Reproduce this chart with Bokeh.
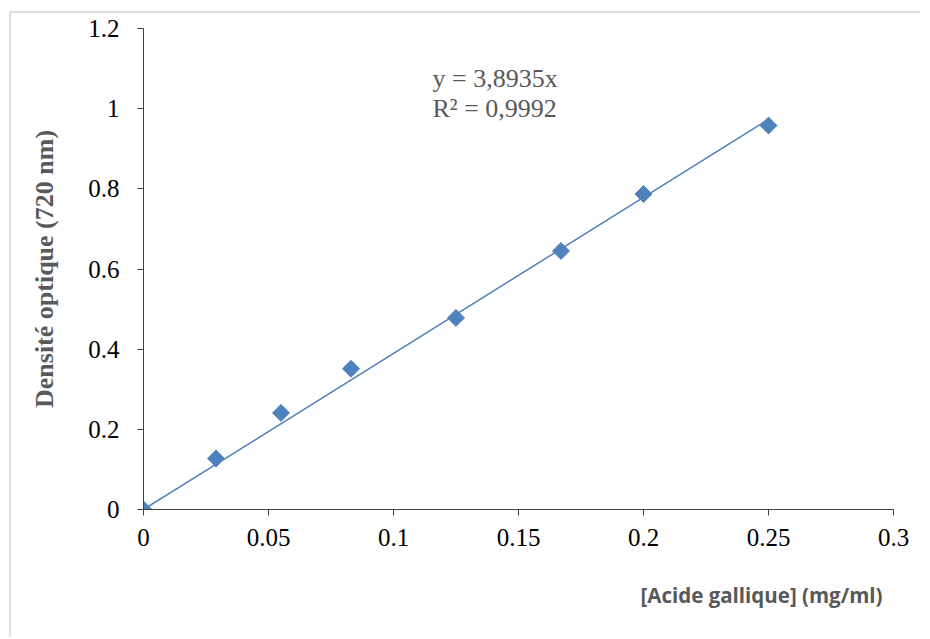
import numpy as np
from bokeh.plotting import figure
from bokeh.models import FixedTicker, Label, Title
from bokeh.embed import file_html
from bokeh.resources import INLINE

# Data
conc = [0, 0.029, 0.055, 0.083, 0.125, 0.167, 0.2, 0.25]
absorb = [0, 0.127, 0.241, 0.351, 0.478, 0.645, 0.787, 0.958]
slope = 3.8935
x_ticks = [0, 0.05, 0.1, 0.15, 0.2, 0.25, 0.3]
x_tick_labels = ["0", "0.05", "0.1", "0.15", "0.2", "0.25", "0.3"]
y_ticks = [0, 0.2, 0.4, 0.6, 0.8, 1.0, 1.2]
y_tick_labels = ["0", "0.2", "0.4", "0.6", "0.8", "1", "1.2"]
eq_lines = ["y = 3,8935x", "R² = 0,9992"]

BLUE = "#4F81BD"
GRAY = "#595959"

p = figure(width=911, height=626, x_range=(0, 0.3), y_range=(0, 1.2),
           output_backend="svg", toolbar_location=None,
           min_border_left=132, min_border_right=29,
           min_border_top=15, min_border_bottom=129)
p.styles = {"border-top": "2px solid #e0e0e0", "border-left": "2px solid #e0e0e0",
            "margin-top": "11px", "margin-left": "9px"}
p.grid.visible = False
p.outline_line_color = None
p.background_fill_color = "white"

# trendline
xf = np.array([0, max(conc)])
p.line(xf, slope * xf, line_color=BLUE, line_width=1.5)
p.scatter(conc, absorb, marker="square", angle=np.pi / 4, size=12,
          fill_color=BLUE, line_color=BLUE)

for ax, ticks, labels in ((p.xaxis[0], x_ticks, x_tick_labels),
                          (p.yaxis[0], y_ticks, y_tick_labels)):
    ax.ticker = FixedTicker(ticks=ticks)
    ax.major_label_overrides = {t: l for t, l in zip(ticks, labels)}
    ax.minor_tick_line_color = None
    ax.major_tick_out = 6
    ax.major_tick_in = 0
    ax.axis_line_color = "#404040"
    ax.major_tick_line_color = "#404040"
    ax.major_label_text_font = "Liberation Serif"
    ax.major_label_text_font_size = "25px"
    ax.major_label_text_color = "black"

p.xaxis.major_label_standoff = 13
p.yaxis.major_label_standoff = 18

p.yaxis.axis_label = "Densité optique (720 nm)"
p.yaxis.axis_label_text_font = "Liberation Serif"
p.yaxis.axis_label_text_font_style = "bold"
p.yaxis.axis_label_text_font_size = "26px"
p.yaxis.axis_label_text_color = GRAY
p.yaxis.axis_label_standoff = 26

p.add_layout(Title(text="[Acide gallique] (mg/ml)", align="right", offset=11,
                   text_font="Open Sans", text_font_style="bold",
                   text_font_size="20.5px", text_color=GRAY, standoff=61), "below")
p.add_layout(Label(x=0.1156, y=1.0755, text=eq_lines[0],
                   text_font="Liberation Serif", text_font_size="26px",
                   text_color=GRAY, text_align="left", text_baseline="middle"))
p.add_layout(Label(x=0.1156, y=1.0008, text=eq_lines[1],
                   text_font="Liberation Serif", text_font_size="26px",
                   text_color=GRAY, text_align="left", text_baseline="middle"))

open("out.html", "w").write(file_html(p, INLINE))
